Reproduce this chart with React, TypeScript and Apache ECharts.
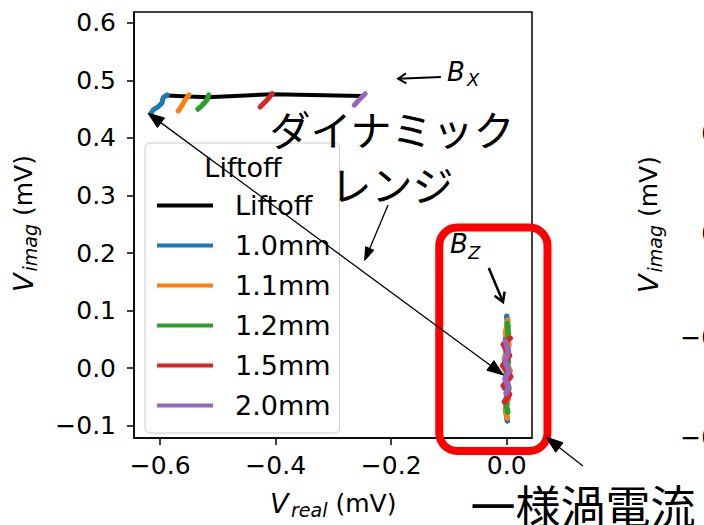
import React, { useEffect, useRef } from 'react';
import * as echarts from 'echarts';

// Axis ranges and tick positions (mV)
const xRange = [-0.6454, 0.0438];
const yRange = [-0.1217, 0.6191];
const xTicks = [-0.6, -0.4, -0.2, 0.0];
const yTicks = [-0.1, 0.0, 0.1, 0.2, 0.3, 0.4, 0.5, 0.6];

// Liftoff distances and their colours
const liftoffNames = ['1.0mm', '1.1mm', '1.2mm', '1.5mm', '2.0mm'];
const liftoffColors = ['#1f77b4', '#ff7f0e', '#2ca02c', '#d62728', '#9467bd'];

// Bx response (Vreal, Vimag) per liftoff
const bx10 = [[-0.588, 0.475], [-0.595, 0.470], [-0.597, 0.461], [-0.604, 0.454], [-0.612, 0.449], [-0.616, 0.443]];
const bx11 = [[-0.550, 0.475], [-0.557, 0.466], [-0.562, 0.457], [-0.569, 0.447]];
const bx12 = [[-0.516, 0.475], [-0.519, 0.466], [-0.528, 0.456], [-0.535, 0.450]];
const bx15 = [[-0.406, 0.477], [-0.415, 0.466], [-0.427, 0.454]];
const bx20 = [[-0.245, 0.477], [-0.254, 0.468], [-0.264, 0.457]];

// Bz response (Vreal, Vimag) per liftoff
const bz10 = [[0.000, 0.090], [0.002, 0.071], [-0.002, 0.049], [0.003, 0.031], [-0.003, 0.009], [0.004, -0.011], [-0.002, -0.029], [0.003, -0.052], [-0.002, -0.071], [0.001, -0.092]];
const bz11 = [[0.002, 0.083], [-0.002, 0.061], [0.004, 0.041], [-0.004, 0.017], [0.006, -0.005], [-0.003, -0.027], [0.003, -0.047], [-0.002, -0.071], [0.001, -0.087]];
const bz12 = [[0.001, 0.078], [0.003, 0.059], [-0.003, 0.037], [0.003, 0.011], [-0.002, -0.013], [0.004, -0.035], [-0.002, -0.058], [0.002, -0.077]];
const bz15 = [[0.006, 0.052], [-0.006, 0.041], [0.005, 0.022], [-0.007, 0.004], [0.007, -0.015], [-0.006, -0.031], [0.005, -0.046], [-0.004, -0.059]];
const bz20 = [[-0.002, 0.046], [0.003, 0.029], [-0.003, 0.013], [0.004, -0.005], [-0.003, -0.019], [0.003, -0.034], [-0.001, -0.044]];

// Liftoff curve joining the Bx starting points
const liftoffCurve = [[-0.588, 0.474], [-0.552, 0.472], [-0.517, 0.471], [-0.406, 0.476], [-0.250, 0.473]];

const bxData = [bx10, bx11, bx12, bx15, bx20];
const bzData = [bz10, bz11, bz12, bz15, bz20];

// Annotation anchors in data coordinates
const rangeArrow = [[-0.621, 0.443], [-0.006, -0.012]];
const rangePointer = [[-0.2055, 0.2835], [-0.246, 0.187]];
const bxPointer = [[-0.114, 0.506], [-0.188, 0.503]];
const bzPointer = [[-0.031, 0.174], [-0.0064, 0.1148]];
const eddyPointer = [[0.132, -0.1704], [0.068, -0.120]];
const eddyBox = [[-0.1168, 0.2443], [0.0706, -0.1443]];

// Tick labels of the neighbouring panel
const nextPanelTicks = ['0.2', '0.0', '−0.2', '−0.4'];

const FONT = 'DejaVu Sans';
const JP = '"Noto Sans CJK JP"';

const fmt = (v: number) => (v < 0 ? '−' : '') + Math.abs(v).toFixed(1);

function arrow(a: number[], b: number[], o: { w: number; hl: number; hw: number; open?: boolean; both?: boolean }) {
  const dx = b[0] - a[0];
  const dy = b[1] - a[1];
  const L = Math.hypot(dx, dy);
  const ux = dx / L, uy = dy / L;
  const nx = -uy, ny = ux;
  const els: any[] = [];
  const head = (tip: number[], sx: number, sy: number) => {
    const bx = tip[0] - sx * o.hl, by = tip[1] - sy * o.hl;
    const p1 = [bx + nx * o.hw / 2, by + ny * o.hw / 2];
    const p2 = [bx - nx * o.hw / 2, by - ny * o.hw / 2];
    if (o.open) {
      els.push({ type: 'polyline', z: 100, shape: { points: [p1, tip, p2] }, style: { stroke: '#000', lineWidth: o.w, fill: null, lineJoin: 'miter' } });
    } else {
      els.push({ type: 'polygon', z: 100, shape: { points: [tip, p1, p2] }, style: { fill: '#000', stroke: '#000', lineWidth: 1 } });
    }
  };
  let s = a, e = b;
  if (!o.open) {
    e = [b[0] - ux * o.hl * 0.8, b[1] - uy * o.hl * 0.8];
    if (o.both) s = [a[0] + ux * o.hl * 0.8, a[1] + uy * o.hl * 0.8];
  }
  els.push({ type: 'line', z: 100, shape: { x1: s[0], y1: s[1], x2: e[0], y2: e[1] }, style: { stroke: '#000', lineWidth: o.w } });
  head(b, ux, uy);
  if (o.both) head(a, -ux, -uy);
  return els;
}

function txt(x: number, y: number, text: string, size: number, extra: any = {}, rotation = 0) {
  return {
    type: 'text', z: 110, x, y, rotation,
    style: {
      text, fontSize: size, fontFamily: extra.family || FONT, fontStyle: extra.italic ? 'italic' : 'normal',
      fill: '#000', align: extra.align || 'left', textAlign: extra.align || 'left',
      verticalAlign: 'middle', textVerticalAlign: 'middle', lineHeight: extra.lineHeight,
    },
  };
}

// "V_sub (mV)" axis title, horizontal or rotated bottom-to-top
function axisTitle(x: number, y: number, sub: string, vertical: boolean) {
  const vW = 18.5, subW = sub === 'imag' ? 47.5 : 36;
  if (!vertical) {
    return [
      txt(x, y, 'V', 27, { italic: true }),
      txt(x + vW + 2.5, y + 6.5, sub, 19, { italic: true }),
      txt(x + vW + subW + 11, y + 0.5, '(mV)', 25),
    ];
  }
  const r = Math.PI / 2;
  return [
    txt(x, y, 'V', 27, { italic: true }, r),
    txt(x + 6.5, y - vW - 2, sub, 19, { italic: true }, r),
    txt(x, y - vW - subW - 10, '(mV)', 25, {}, r),
  ];
}

export default function App() {
  const ref = useRef<HTMLDivElement>(null);

  useEffect(() => {
    if (!ref.current) return;
    const chart = echarts.init(ref.current, null, { renderer: 'svg' });

    const line = (name: string, color: string, data: number[][], width: number) => ({
      type: 'line', name, data, symbol: 'none', showSymbol: false, smooth: false,
      color, lineStyle: { color, width, cap: 'round', join: 'round' }, itemStyle: { color },
    });

    const series: any[] = [line('Liftoff', '#000', liftoffCurve, 4)];
    liftoffNames.forEach((n, i) => {
      series.push(line(n, liftoffColors[i], bxData[i], 5));
      series.push(line(n, liftoffColors[i], bzData[i], 5.5));
    });

    const axisCommon = {
      type: 'value',
      splitLine: { show: false },
      axisLine: { show: true, onZero: false, lineStyle: { color: '#000', width: 1.5 } },
    };

    chart.setOption({
      animation: false,
      grid: { left: 134, top: 12, right: 172, bottom: 87, show: true, borderColor: '#000', borderWidth: 1.5 },
      xAxis: {
        ...axisCommon,
        min: xRange[0], max: xRange[1],
        axisTick: { show: true, customValues: xTicks, length: 7, lineStyle: { color: '#000', width: 1.5 } },
        axisLabel: { customValues: xTicks, formatter: fmt, fontSize: 25, fontFamily: FONT, color: '#000', margin: 15 },
      },
      yAxis: {
        ...axisCommon,
        min: yRange[0], max: yRange[1],
        axisTick: { show: true, customValues: yTicks, length: 7, lineStyle: { color: '#000', width: 1.5 } },
        axisLabel: { customValues: yTicks, formatter: fmt, fontSize: 25, fontFamily: FONT, color: '#000', margin: 18 },
      },
      legend: {
        data: ['Liftoff', ...liftoffNames],
        orient: 'vertical',
        left: 145, top: 143,
        padding: [49, 9, 14, 12],
        itemWidth: 56, itemHeight: 4, itemGap: 13,
        icon: 'rect',
        textStyle: { fontSize: 27, fontFamily: FONT, color: '#000', lineHeight: 26, padding: [0, 0, 0, 17] },
        backgroundColor: 'rgba(255,255,255,0.8)',
        borderColor: '#cccccc', borderWidth: 1, borderRadius: 5,
      },
      series,
    });

    const px = (p: number[]) => chart.convertToPixel({ seriesIndex: 0 }, p) as number[];
    const g: any[] = [];

    const b0 = px(eddyBox[0]), b1 = px(eddyBox[1]);
    g.push({ type: 'rect', z: 90, shape: { x: b0[0], y: b0[1], width: b1[0] - b0[0], height: b1[1] - b0[1], r: 18 }, style: { fill: null, stroke: '#ff0000', lineWidth: 8 } });

    g.push(...arrow(px(rangeArrow[0]), px(rangeArrow[1]), { w: 1.3, hl: 16, hw: 12, both: true }));
    g.push(...arrow(px(rangePointer[0]), px(rangePointer[1]), { w: 1.3, hl: 13, hw: 9 }));
    g.push(...arrow(px(bxPointer[0]), px(bxPointer[1]), { w: 2, hl: 8, hw: 10, open: true }));
    g.push(...arrow(px(bzPointer[0]), px(bzPointer[1]), { w: 2.5, hl: 9, hw: 11, open: true }));
    g.push(...arrow(px(eddyPointer[0]), px(eddyPointer[1]), { w: 1.3, hl: 17, hw: 12 }));

    // Legend title
    g.push(txt(243, 167, 'Liftoff', 27, { align: 'center' }));

    // Field component labels
    g.push(txt(447, 72, 'B', 26, { italic: true }));
    g.push(txt(467, 79, 'X', 18, { italic: true }));
    g.push(txt(450, 244, 'B', 26, { italic: true }));
    g.push(txt(468, 252, 'Z', 18, { italic: true }));

    // Japanese annotations
    g.push(txt(392, 155, 'ダイナミック\nレンジ', 41, { align: 'center', family: JP, lineHeight: 55 }));
    g.push(txt(583, 504, '一様渦電流', 45, { align: 'center', family: JP, lineHeight: 40 }));

    // Axis titles
    g.push(...axisTitle(270, 503, 'real', false));
    g.push(...axisTitle(23, 292, 'imag', true));

    // Neighbouring panel (partly visible)
    g.push(...axisTitle(648, 293, 'imag', true));
    const tickYs = [133, 233, 337, 437];
    nextPanelTicks.forEach((t, i) => g.push(txt(741, tickYs[i], t, 25, { align: 'right' })));

    chart.setOption({ graphic: g });

    return () => chart.dispose();
  }, []);

  return <div ref={ref} style={{ position: 'fixed', left: 0, top: 0, width: 704, height: 525, background: '#fff' }} />;
}
